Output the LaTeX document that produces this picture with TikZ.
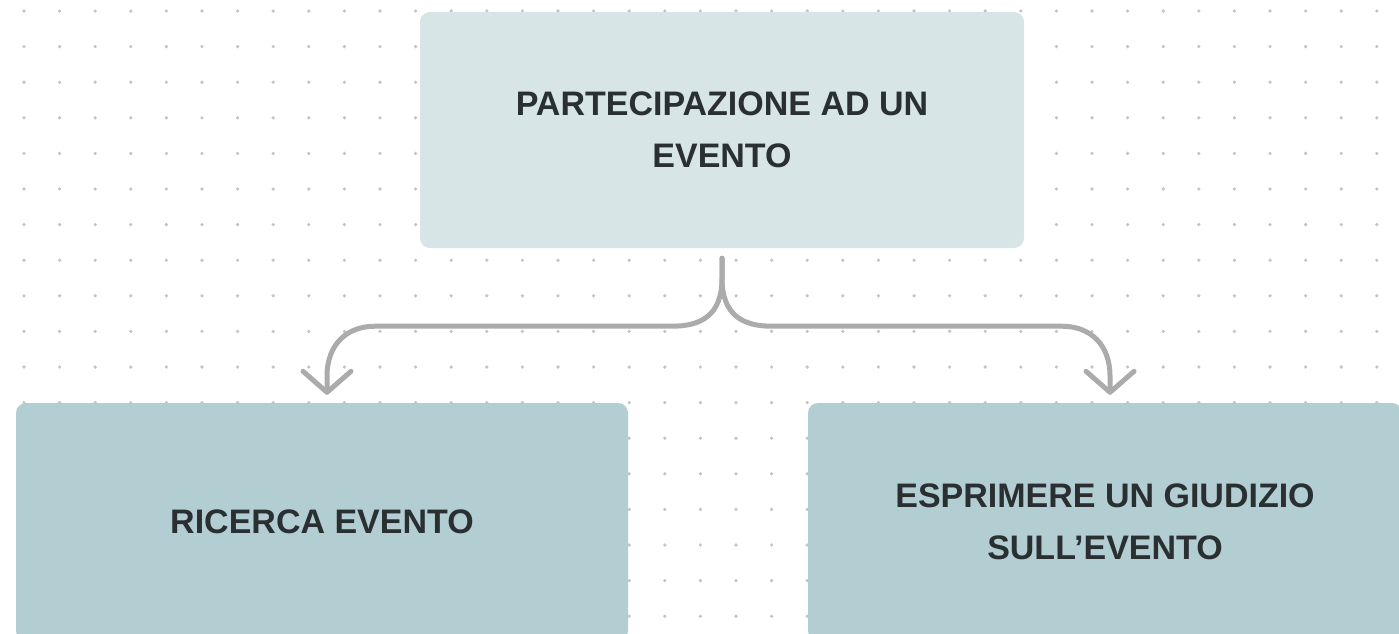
\documentclass[tikz,border=0pt]{standalone}
\usepackage{fontspec}
\setmainfont{Liberation Sans}
\usetikzlibrary{arrows.meta,calc}
\definecolor{dotc}{HTML}{C4C4C4}
\definecolor{topfill}{HTML}{D8E5E7}
\definecolor{subfill}{HTML}{B3CED2}
\definecolor{txt}{HTML}{2A2F31}
\definecolor{conn}{HTML}{ABABAB}
\tikzset{
  box/.style={rounded corners=10pt, inner sep=0pt, align=center, text=txt,
    font=\fontsize{34}{52}\selectfont\bfseries},
  conn/.style={draw=conn, line width=5pt, line cap=round, line join=round,
    -{Straight Barb[length=21pt,width=48pt,round]}}
}
\begin{document}
\begin{tikzpicture}[x=1pt,y=-1pt]
\useasboundingbox (0,0) rectangle (1399,633);
\fill[white] (0,0) rectangle (1399,633);
\foreach \i in {0,...,38} {
  \foreach \j in {0,...,17} {
    \fill[dotc] (24+35.6*\i, 11+35.6*\j) circle (1.8pt);
  }
}
\node[box, fill=topfill, minimum width=604pt, minimum height=236pt] (top) at (722,130)
  {PARTECIPAZIONE AD UN\\EVENTO};
\node[box, fill=subfill, minimum width=612pt, minimum height=238pt] (left) at (322,522)
  {RICERCA EVENTO};
\node[box, fill=subfill, minimum width=594pt, minimum height=238pt] (right) at (1105,522)
  {ESPRIMERE UN GIUDIZIO\\SULL’EVENTO};
\coordinate (s) at ([yshift=-10pt]top.south);
\coordinate (lt) at ([xshift=5pt,yshift=8pt]left.north);
\coordinate (rt) at ([xshift=5pt,yshift=8pt]right.north);
\path[conn] (s) -- ++(0,20) .. controls ($(s)+(0,58)$) and ($(s)+(-22,68)$) .. ($(s)+(-50,68)$)
  -- ($(lt |- s)+(48,68)$) .. controls ($(lt |- s)+(20,68)$) and ($(lt |- s)+(0,86)$) .. ($(lt |- s)+(0,118)$) -- (lt);
\path[conn] (s) -- ++(0,20) .. controls ($(s)+(0,58)$) and ($(s)+(22,68)$) .. ($(s)+(50,68)$)
  -- ($(rt |- s)+(-48,68)$) .. controls ($(rt |- s)+(-20,68)$) and ($(rt |- s)+(0,86)$) .. ($(rt |- s)+(0,118)$) -- (rt);
\end{tikzpicture}
\end{document}
